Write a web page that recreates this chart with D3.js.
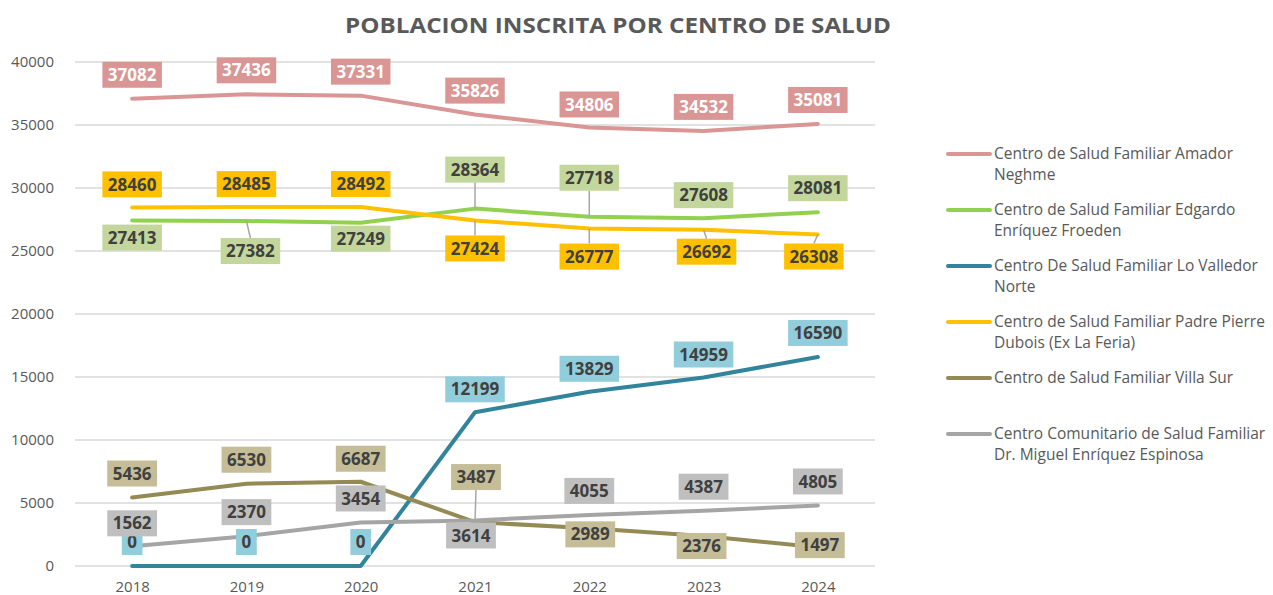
<!DOCTYPE html>
<html>
<head>
<meta charset="utf-8">
<script src="https://cdn.jsdelivr.net/npm/d3@7"></script>
<style>
  body { margin: 0; background: #fff; }
  svg { display: block; font-family: "Open Sans", sans-serif; }
</style>
</head>
<body>
<svg id="chart" width="1273" height="595"></svg>
<script>
// categories and values
var years = ["2018", "2019", "2020", "2021", "2022", "2023", "2024"];
var amador = [37082, 37436, 37331, 35826, 34806, 34532, 35081];
var edgardo = [27413, 27382, 27249, 28364, 27718, 27608, 28081];
var valledor = [0, 0, 0, 12199, 13829, 14959, 16590];
var padrePierre = [28460, 28485, 28492, 27424, 26777, 26692, 26308];
var villaSur = [5436, 6530, 6687, 3487, 2989, 2376, 1497];
var miguel = [1562, 2370, 3454, 3614, 4055, 4387, 4805];
var yTicks = [0, 5000, 10000, 15000, 20000, 25000, 30000, 35000, 40000];

var seriesNames = [
	["Centro de Salud Familiar Amador", "Neghme"],
	["Centro de Salud Familiar Edgardo", "Enríquez Froeden"],
	["Centro De Salud Familiar Lo Valledor", "Norte"],
	["Centro de Salud Familiar Padre Pierre", "Dubois (Ex La Feria)"],
	["Centro de Salud Familiar Villa Sur"],
	["Centro Comunitario de Salud Familiar", "Dr. Miguel Enríquez Espinosa"]
];

// label placement relative to the point: [dx, dy, leader]
var labelPlace = [
	[[0,-24],[0,-24],[0,-24],[0,-24],[0,-23],[0,-24],[0,-24]],
	[[0,17],[4,30,1],[0,16],[0,-39,1],[0,-39,1],[0,-23],[0,-24]],
	[[0,-24],[0,-24],[0,-24],[0,-23],[0,-23],[0,-23],[0,-24]],
	[[0,-23],[0,-23],[0,-23],[0,28,1],[0,28,1],[3,22,1],[-4,22,1]],
	[[0,-24],[0,-24],[0,-23],[1,-45,1],[1,6],[-2,10],[2,-2]],
	[[0,-23],[0,-24],[0,-24],[-4,15],[0,-24],[0,-24],[0,-24]]
];

var lineColors = ["#D99694", "#92D050", "#31849B", "#FFC000", "#948A54", "#A5A5A5"];
var labelFills = ["#D99694", "#C3D69B", "#92CDDC", "#FFC000", "#C4BD97", "#BFBFBF"];
var labelText = ["#FFFFFF", "#404040", "#404040", "#404040", "#404040", "#404040"];

var allSeries = [amador, edgardo, valledor, padrePierre, villaSur, miguel];

var svg = d3.select("#chart");
var margin = {left: 75, right: 398, top: 62, bottom: 29};
var width = +svg.attr("width"), height = +svg.attr("height");

var x = d3.scalePoint()
	.domain(years)
	.range([margin.left, width - margin.right])
	.padding(0.5);
var y = d3.scaleLinear()
	.domain([0, 40000])
	.range([height - margin.bottom, margin.top]);

// title
svg.append("text")
	.attr("x", 618).attr("y", 33)
	.attr("text-anchor", "middle")
	.attr("font-size", 22).attr("font-weight", "bold")
	.attr("fill", "#595959")
	.attr("textLength", 546).attr("lengthAdjust", "spacingAndGlyphs")
	.text("POBLACION INSCRITA POR CENTRO DE SALUD");

// grid
var g_grid = svg.append("g");
g_grid.selectAll("line").data(yTicks).enter().append("line")
	.attr("x1", margin.left).attr("x2", width - margin.right)
	.attr("y1", function(d) { return y(d); })
	.attr("y2", function(d) { return y(d); })
	.attr("stroke", "#D9D9D9").attr("stroke-width", 1.3);

var yAxis = svg.append("g")
	.attr("transform", "translate(" + (margin.left - 18) + ",0)")
	.call(d3.axisLeft(y).tickValues(yTicks).tickSize(0).tickFormat(d3.format("d")));
yAxis.select(".domain").remove();
yAxis.selectAll("text").attr("font-size", 15).attr("fill", "#595959")
	.attr("font-family", "Open Sans").attr("dy", "0.32em");

var xAxis = svg.append("g")
	.attr("transform", "translate(0," + (height - margin.bottom + 12) + ")")
	.call(d3.axisBottom(x).tickSize(0));
xAxis.select(".domain").remove();
xAxis.selectAll("text").attr("font-size", 15).attr("fill", "#595959")
	.attr("font-family", "Open Sans");

// lines
var line = d3.line()
	.x(function(d, i) { return x(years[i]); })
	.y(function(d) { return y(d); });

var g_line = svg.append("g");
allSeries.forEach(function(s, k) {
	g_line.append("path")
		.attr("d", line(s))
		.attr("fill", "none")
		.attr("stroke", lineColors[k])
		.attr("stroke-width", 4)
		.attr("stroke-linejoin", "round")
		.attr("stroke-linecap", "round");
});

// data labels
var g_label = svg.append("g");
allSeries.forEach(function(s, k) {
	s.forEach(function(v, i) {
		var px = x(years[i]), py = y(v);
		var p = labelPlace[k][i];
		var cx = px + p[0], cy = py + p[1];
		var w = String(v).length * 9.7 + 11, h = 26;
		if (p[2]) {
			var ey = p[1] > 0 ? cy - h / 2 : cy + h / 2;
			g_label.append("line")
				.attr("x1", px).attr("y1", py)
				.attr("x2", cx).attr("y2", ey)
				.attr("stroke", "#A6A6A6").attr("stroke-width", 1.5);
		}
		g_label.append("rect")
			.attr("x", cx - w / 2).attr("y", cy - h / 2)
			.attr("width", w).attr("height", h)
			.attr("fill", labelFills[k]);
		g_label.append("text")
			.attr("x", cx).attr("y", cy)
			.attr("dy", "0.36em")
			.attr("text-anchor", "middle")
			.attr("font-size", 17).attr("font-weight", "bold")
			.attr("fill", labelText[k])
			.text(v);
	});
});

// legend
var legend = svg.append("g").attr("transform", "translate(948,154)");
var item = legend.selectAll("g").data(seriesNames).enter().append("g")
	.attr("transform", function(d, i) { return "translate(0," + (i * 56) + ")"; });
item.append("line")
	.attr("x1", 0).attr("x2", 42).attr("y1", 0).attr("y2", 0)
	.attr("stroke", function(d, i) { return lineColors[i]; })
	.attr("stroke-width", 4).attr("stroke-linecap", "round");
item.each(function(d) {
	var t = d3.select(this).append("text")
		.attr("x", 46).attr("y", 0)
		.attr("font-size", 15.5).attr("fill", "#595959");
	d.forEach(function(s, j) {
		t.append("tspan").attr("x", 46).attr("dy", j == 0 ? "0.35em" : "21").text(s);
	});
});
</script>
</body>
</html>
